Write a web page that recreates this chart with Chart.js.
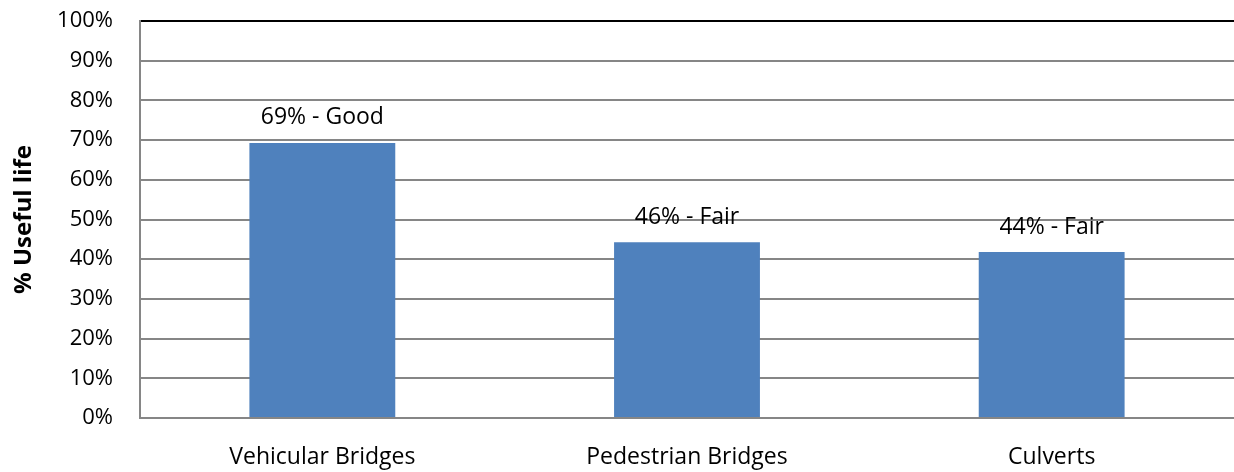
<!DOCTYPE html>
<html>
<head>
<meta charset="utf-8">
<script src="https://cdn.jsdelivr.net/npm/chart.js@4.4.0/dist/chart.umd.min.js"></script>
<style>
  html, body { margin: 0; padding: 0; background: #fff; }
  #wrap { width: 1234px; height: 472px; position: relative; }
</style>
</head>
<body>
<div id="wrap"><canvas id="lifeChart"></canvas></div>
<script>
const categories = ['Vehicular Bridges', 'Pedestrian Bridges', 'Culverts'];
const usefulLife = [69.3, 44.3, 41.8];
const barLabels = ['69% - Good', '46% - Fair', '44% - Fair'];
const yTicks = [0, 10, 20, 30, 40, 50, 60, 70, 80, 90, 100];

const FONT = "'Open Sans', sans-serif";

// text above each bar
const barLabelPlugin = {
  id: 'barLabels',
  afterDatasetsDraw(chart) {
    const ctx = chart.ctx;
    const meta = chart.getDatasetMeta(0);
    ctx.save();
    ctx.font = '23px ' + FONT;
    ctx.fillStyle = '#000';
    ctx.textAlign = 'center';
    ctx.textBaseline = 'middle';
    meta.data.forEach((bar, i) => {
      ctx.fillText(barLabels[i], bar.x, bar.y - 25);
    });
    ctx.restore();
  }
};

new Chart(document.getElementById('lifeChart'), {
  type: 'bar',
  data: {
    labels: categories,
    datasets: [{
      data: usefulLife,
      backgroundColor: '#4f81bd',
      borderWidth: 0,
      categoryPercentage: 1,
      barPercentage: 0.4
    }]
  },
  options: {
    responsive: true,
    maintainAspectRatio: false,
    animation: false,
    layout: { padding: { top: 0, right: 0, left: 10, bottom: 0 } },
    plugins: {
      legend: { display: false },
      tooltip: { enabled: false }
    },
    scales: {
      x: {
        grid: { display: false, drawTicks: false },
        border: { display: true, color: '#868686', width: 2 },
        ticks: {
          color: '#000',
          font: { family: FONT, size: 23 },
          padding: 26
        },
        afterFit(scale) { scale.height = 54; }
      },
      y: {
        min: 0,
        max: 100,
        afterBuildTicks(scale) {
          scale.ticks = yTicks.map(v => ({ value: v }));
        },
        grid: {
          color: ctx => ctx.tick && ctx.tick.value === 100 ? '#000' : '#868686',
          lineWidth: 2,
          drawTicks: false
        },
        border: { display: true, color: '#868686', width: 2 },
        ticks: {
          color: '#000',
          font: { family: FONT, size: 22 },
          padding: 27,
          callback: v => v + '%'
        },
        title: {
          display: true,
          text: '% Useful life',
          color: '#000',
          font: { family: FONT, size: 24, weight: 'bold' },
          padding: 0
        },
        afterFit(scale) {
          scale.width = 130;
          scale.paddingTop = 21;
          scale.paddingBottom = 0;
        }
      }
    }
  },
  plugins: [barLabelPlugin]
});
</script>
</body>
</html>
